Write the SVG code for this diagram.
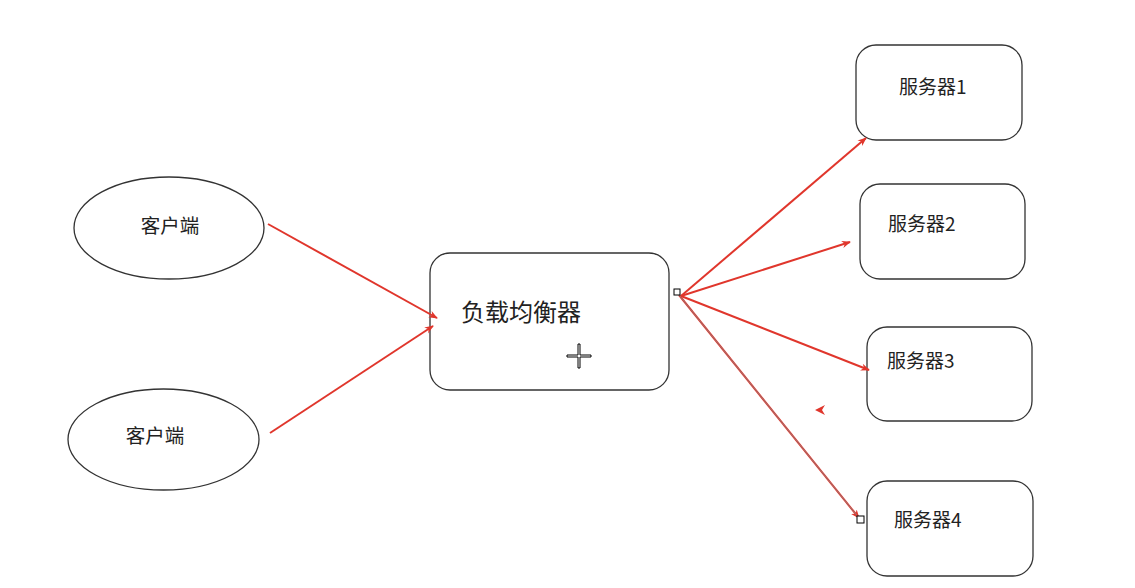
<svg xmlns="http://www.w3.org/2000/svg" width="1135" height="588" viewBox="0 0 1135 588">
<defs>
<style>
.shape{fill:#fff;stroke:#333;stroke-width:1.3}
.lbl{font-family:"Noto Sans CJK SC","Noto Sans",sans-serif;fill:#222}
.conn{stroke:#e0362c;stroke-width:2;fill:none}
</style>
<marker id="ah" viewBox="0 0 10 10" refX="9" refY="5" markerWidth="9" markerHeight="9" orient="auto" markerUnits="userSpaceOnUse">
<path d="M0,1 L10,5 L0,9 L3,5 Z" fill="#e0362c"/>
</marker>
</defs>
<rect width="1135" height="588" fill="#fff"/>
<g id="client1">
<ellipse class="shape" cx="169" cy="228" rx="95" ry="51"/>
<text class="lbl" x="170" y="233" font-size="19.5" text-anchor="middle">客户端</text>
</g>
<g id="client2">
<ellipse class="shape" cx="163.5" cy="439.5" rx="95.5" ry="50.5"/>
<text class="lbl" x="155" y="443" font-size="19.5" text-anchor="middle">客户端</text>
</g>
<g id="lb">
<rect class="shape" x="430" y="253" width="239" height="137" rx="20"/>
<text class="lbl" x="461" y="321" font-size="24">负载均衡器</text>
</g>
<g id="server1">
<rect class="shape" x="856" y="45" width="166" height="95" rx="20"/>
<text class="lbl" x="899" y="94" font-size="19">服务器1</text>
</g>
<g id="server2">
<rect class="shape" x="860" y="184" width="165" height="95" rx="20"/>
<text class="lbl" x="888" y="231" font-size="19">服务器2</text>
</g>
<g id="server3">
<rect class="shape" x="867" y="327" width="165" height="94" rx="20"/>
<text class="lbl" x="887" y="368" font-size="19">服务器3</text>
</g>
<g id="server4">
<rect class="shape" x="867" y="481" width="166" height="95" rx="20"/>
<text class="lbl" x="894" y="527" font-size="19">服务器4</text>
</g>
<g id="connectors">
<line class="conn" x1="268" y1="224" x2="437" y2="318" marker-end="url(#ah)"/>
<line class="conn" x1="270" y1="433" x2="433" y2="326" marker-end="url(#ah)"/>
<line class="conn" x1="681" y1="296" x2="866" y2="138" marker-end="url(#ah)"/>
<line class="conn" x1="681" y1="296" x2="850" y2="242" marker-end="url(#ah)"/>
<line class="conn" x1="681" y1="296" x2="869" y2="370" marker-end="url(#ah)"/>
<line class="conn" x1="679" y1="295" x2="859" y2="518" marker-end="url(#ah)"/>
<line x1="679" y1="295" x2="859" y2="518" stroke="#888" stroke-width="0.8"/>
<path d="M815,410 L825,405 L822,410 L825,415 Z" fill="#e0362c"/>
<rect x="674" y="289" width="6" height="6" fill="#fff" stroke="#000" stroke-width="1"/>
<rect x="857" y="516" width="7" height="7" fill="#fff" stroke="#000" stroke-width="1"/>
</g>
<path d="M578,344 h2 v11 h11 v2 h-11 v11 h-2 v-11 h-11 v-2 h11 Z" fill="#fff" stroke="#000" stroke-width="1"/>
</svg>
